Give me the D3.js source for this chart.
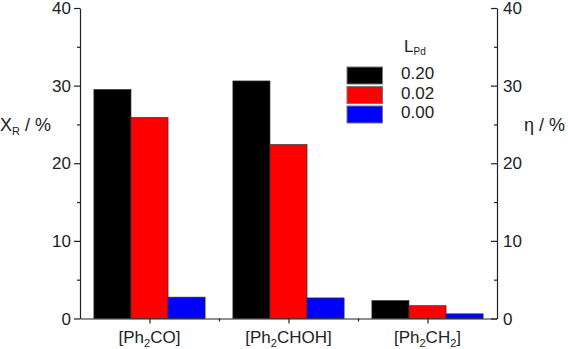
<!DOCTYPE html>
<html><head><meta charset="utf-8">
<script src="https://cdn.jsdelivr.net/npm/d3@7"></script>
<style>body{margin:0;background:#fff}svg{display:block}text{font-family:"Liberation Sans",Arial,sans-serif;fill:#222}</style>
</head><body><svg id="c" width="568" height="349"></svg>
<script>
const categories = ["Ph2CO", "Ph2CHOH", "Ph2CH2"];
const seriesNames = ["0.20", "0.02", "0.00"];
const seriesColors = ["#000000", "#ff0000", "#0000ff"];
const values020 = [29.5, 30.6, 2.3];
const values002 = [25.9, 22.4, 1.65];
const values000 = [2.75, 2.65, 0.6];
const yTicks = [0, 10, 20, 30, 40];
const yMinorTicks = [5, 15, 25, 35];
const catLabels = [["[Ph","2","CO]"],["[Ph","2","CHOH]"],["[Ph","2","CH","2","]"]];

const series = [values020, values002, values000];
const svg = d3.select("#c");
const L = 80, R = 497, T = 8, B = 318.5;
const x = d3.scaleLinear().domain([0.5, 3.5]).range([L, R]);
const y = d3.scaleLinear().domain([0, 40]).range([B, T]);
const groupW = (x(2) - x(1)) * 0.8;
const bw = groupW / 3;

// bars
series.forEach((vals, si) => {
  svg.append("g").selectAll("rect").data(vals).join("rect")
    .attr("x", (d, i) => x(i + 1) - groupW / 2 + si * bw)
    .attr("y", d => y(d))
    .attr("width", bw)
    .attr("height", d => y(0) - y(d))
    .attr("fill", seriesColors[si])
    .attr("stroke", "#333").attr("stroke-width", 0.7);
});

// axes
const axStyle = g => { g.selectAll("path,line").attr("stroke", "#222").attr("stroke-width", 1.2); g.selectAll("text").remove(); };
svg.append("g").attr("transform", `translate(${L},0)`)
  .call(d3.axisLeft(y).tickValues(yTicks).tickSize(6).tickSizeOuter(0)).call(axStyle);
svg.append("g").attr("transform", `translate(${L},0)`)
  .call(d3.axisLeft(y).tickValues(yMinorTicks).tickSize(3).tickSizeOuter(0)).call(axStyle).select("path").remove();
svg.append("g").attr("transform", `translate(${R},0)`)
  .call(d3.axisRight(y).tickValues(yTicks).tickSize(-6).tickSizeOuter(0)).call(axStyle);
svg.append("g").attr("transform", `translate(${R},0)`)
  .call(d3.axisRight(y).tickValues(yMinorTicks).tickSize(-3).tickSizeOuter(0)).call(axStyle).select("path").remove();
svg.append("g").attr("transform", `translate(0,${B})`)
  .call(d3.axisBottom(x).tickValues([1, 2, 3]).tickSize(5).tickSizeOuter(0)).call(axStyle);
svg.append("g").attr("transform", `translate(0,${B})`)
  .call(d3.axisBottom(x).tickValues([1.5, 2.5]).tickSize(3).tickSizeOuter(0)).call(axStyle).select("path").remove();

// tick labels
yTicks.forEach(t => {
  svg.append("text").attr("x", L - 9).attr("y", y(t) + 6).attr("text-anchor", "end").attr("font-size", 17).text(t);
  svg.append("text").attr("x", R + 6).attr("y", y(t) + 6).attr("text-anchor", "start").attr("font-size", 17).text(t);
});

// category labels
catLabels.forEach((parts, i) => {
  const t = svg.append("text").attr("x", x(i + 1)).attr("y", 343).attr("text-anchor", "middle").attr("font-size", 17);
  parts.forEach((p, k) => {
    const sub = k % 2 === 1;
    t.append("tspan").attr("font-size", sub ? 11 : 17).attr("dy", sub ? 4 : (k > 0 ? -4 : 0)).text(p);
  });
});

// axis titles
const yl = svg.append("text").attr("x", 0).attr("y", 131).attr("font-size", 18);
yl.append("tspan").text("X");
yl.append("tspan").attr("font-size", 11).attr("dy", 4).text("R");
yl.append("tspan").attr("dy", -4).text(" / %");
svg.append("text").attr("x", 524).attr("y", 131).attr("font-size", 18).text("η / %");

// legend
const lg = svg.append("text").attr("x", 404).attr("y", 52).attr("font-size", 17);
lg.append("tspan").text("L");
lg.append("tspan").attr("font-size", 10).attr("dy", 3).text("Pd");
seriesNames.forEach((n, i) => {
  const yy = 67 + i * 19.5;
  svg.append("rect").attr("x", 347).attr("y", yy).attr("width", 35.5).attr("height", 17)
    .attr("fill", seriesColors[i]).attr("stroke", "#777").attr("stroke-width", 1);
  svg.append("text").attr("x", 401).attr("y", yy + 12).attr("font-size", 17).text(n);
});
</script></body></html>
